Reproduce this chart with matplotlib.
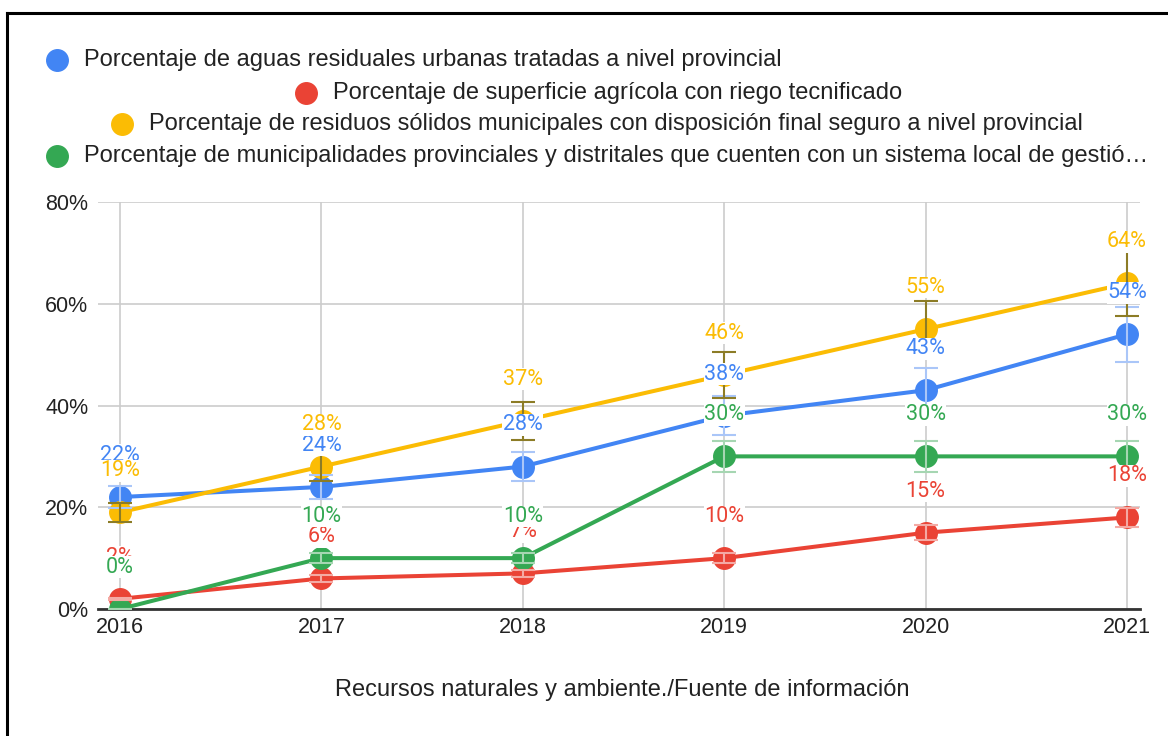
import matplotlib
matplotlib.use("Agg")
import matplotlib.pyplot as plt
from matplotlib.lines import Line2D

years = ["2016", "2017", "2018", "2019", "2020", "2021"]
series_names = [
    "Porcentaje de aguas residuales urbanas tratadas a nivel provincial",
    "Porcentaje de superficie agrícola con riego tecnificado",
    "Porcentaje de residuos sólidos municipales con disposición final seguro a nivel provincial",
    "Porcentaje de municipalidades provinciales y distritales que cuenten con un sistema local de gestió…",
]
aguas = [22, 24, 28, 38, 43, 54]
riego = [2, 6, 7, 10, 15, 18]
residuos = [19, 28, 37, 46, 55, 64]
municipal = [0, 10, 10, 30, 30, 30]
error_frac = 0.10
yticks = [0, 20, 40, 60, 80]
xlabel = "Recursos naturales y ambiente./Fuente de información"

colors = ["#4285F4", "#EA4335", "#FBBC04", "#34A853"]
err_colors = ["#aac6f8", "#f4aaa4", "#8c7c26", "#a6d6b2"]
data = [aguas, riego, residuos, municipal]

W, H = 1168, 736
fig = plt.figure(figsize=(W / 100, H / 100), dpi=100)
ax = fig.add_axes([98 / W, 1 - 609 / H, (1140 - 98) / W, (609 - 202) / H])

x = list(range(len(years)))
ax.set_xlim(-22 / 201.4, 5 + 13 / 201.4)
ax.set_ylim(0, 80)

for vals, c, ec in zip(data, colors, err_colors):
    ax.plot(x, vals, color=c, lw=2.9, marker="o", ms=15.5, zorder=3, solid_capstyle="round")
    ax.errorbar(x, vals, yerr=[v * error_frac for v in vals], fmt="none",
                ecolor=ec, elinewidth=1.5, capsize=8.5, capthick=1.5, zorder=4)

for vals, c in zip(data, colors):
    for xi, v in zip(x, vals):
        ax.annotate(f"{v}%", (xi, v), xytext=(0, 30), textcoords="offset points",
                    ha="center", va="center", color=c, fontsize=15.5, family="Roboto",
                    zorder=6, annotation_clip=False,
                    bbox=dict(boxstyle="square,pad=0.02", fc="white", ec="none"))

ax.set_yticks(yticks)
ax.set_yticklabels([f"{t}%" for t in yticks])
ax.set_xticks(x)
ax.set_xticklabels(years)
ax.grid(True, color="#cccccc", lw=1.2, zorder=0)
ax.set_axisbelow(True)
for s in ["top", "right", "left"]:
    ax.spines[s].set_visible(False)
ax.spines["bottom"].set_color("#333333")
ax.spines["bottom"].set_linewidth(2)
ax.spines["bottom"].set_zorder(2.5)
ax.tick_params(axis="both", length=0, labelsize=15.5, labelcolor="#222222")
ax.tick_params(axis="x", pad=6)
ax.tick_params(axis="y", pad=7)
for lab in ax.get_xticklabels() + ax.get_yticklabels():
    lab.set_family("Liberation Sans")

fig.text(622 / W, 1 - 690 / H, xlabel, ha="center", va="center",
         fontsize=17, color="#222222", family="Liberation Sans")

legend_pos = [(57, 60), (306, 93), (122, 124), (57, 156)]
for (cx, cy), name, c in zip(legend_pos, series_names, colors):
    fig.add_artist(Line2D([cx / W], [1 - cy / H], marker="o", ms=15.5, color=c,
                          lw=0, transform=fig.transFigure))
    fig.text((cx + 27) / W, 1 - cy / H, name, ha="left", va="center",
             fontsize=17, color="#222222", family="Liberation Sans")

fig.add_artist(Line2D([7 / W, 1.0], [1 - 13 / H, 1 - 13 / H], color="black", lw=2.2,
                      transform=fig.transFigure))
fig.add_artist(Line2D([7 / W, 7 / W], [0, 1 - 13 / H], color="black", lw=2.2,
                      transform=fig.transFigure))

fig.savefig("out.png", dpi=100)
